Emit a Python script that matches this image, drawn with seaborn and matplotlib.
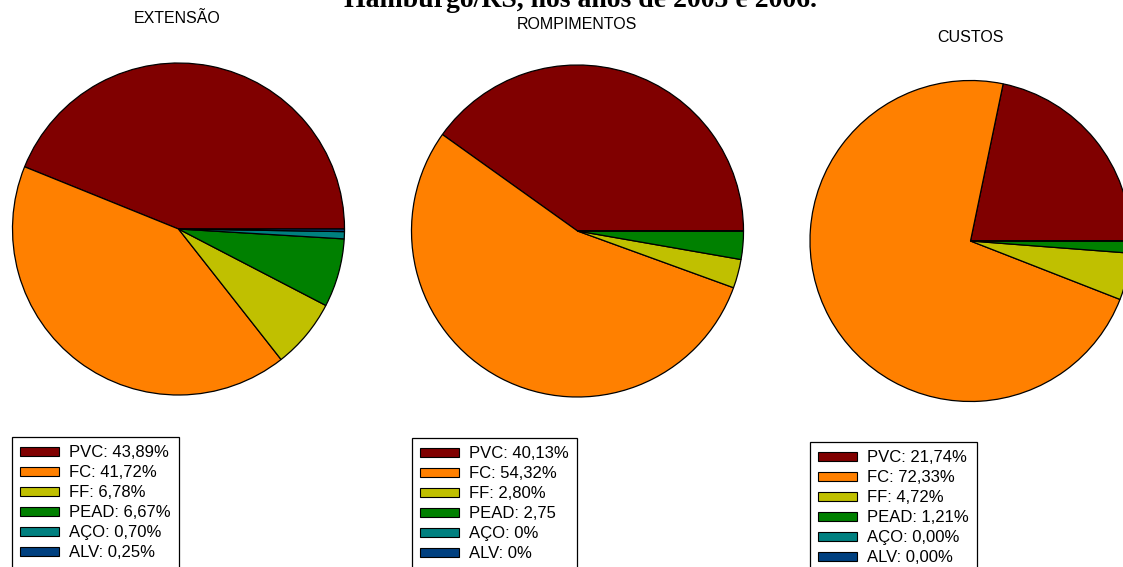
import matplotlib
matplotlib.use('Agg')
import matplotlib.pyplot as plt
import seaborn as sns
from matplotlib.patches import Patch

# dados (percentuais por material)
materiais = ['PVC', 'FC', 'FF', 'PEAD', 'AÇO', 'ALV']
extensao = [43.89, 41.72, 6.78, 6.67, 0.70, 0.25]
rompimentos = [40.13, 54.32, 2.80, 2.75, 0.0, 0.0]
custos = [21.74, 72.33, 4.72, 1.21, 0.0, 0.0]

legenda_extensao = ['PVC: 43,89%', 'FC: 41,72%', 'FF: 6,78%', 'PEAD: 6,67%', 'AÇO: 0,70%', 'ALV: 0,25%']
legenda_rompimentos = ['PVC: 40,13%', 'FC: 54,32%', 'FF: 2,80%', 'PEAD: 2,75', 'AÇO: 0%', 'ALV: 0%']
legenda_custos = ['PVC: 21,74%', 'FC: 72,33%', 'FF: 4,72%', 'PEAD: 1,21%', 'AÇO: 0,00%', 'ALV: 0,00%']

titulo = 'Hamburgo/RS, nos anos de 2005 e 2006.'

sns.set_theme(style='white')
plt.rcParams['font.family'] = ['Liberation Sans', 'DejaVu Sans']
plt.rcParams['text.color'] = 'black'

cores = sns.color_palette(['#800000', '#FF8000', '#C0C000', '#008000', '#008080', '#004080'])

W, H = 1123, 567
fig = plt.figure(figsize=(W / 100, H / 100), dpi=100)
fig.patch.set_facecolor('white')


def px_axes(cx, cy, r):
    """cria eixo quadrado a partir do centro e raio em pixels"""
    return fig.add_axes([(cx - r) / W, (H - cy - r) / H, 2 * r / W, 2 * r / H])


def desenha_pizza(valores, nome, labels, centro, raio, pos_titulo, pos_legenda):
    ax = px_axes(centro[0], centro[1], raio)
    ax.pie(valores, colors=cores, startangle=0, counterclock=True,
           wedgeprops=dict(edgecolor='black', linewidth=0.9))
    ax.set_xlim(-1, 1)
    ax.set_ylim(-1, 1)
    ax.set_aspect('equal')
    ax.axis('off')

    fig.text(pos_titulo[0] / W, 1 - pos_titulo[1] / H, nome,
             ha='center', va='center', fontsize=11.5, color='black')

    handles = [Patch(facecolor=c, edgecolor='black', linewidth=0.8) for c in cores]
    leg = fig.legend(handles, labels, loc='upper left',
                     bbox_to_anchor=(pos_legenda[0] / W, 1 - pos_legenda[1] / H),
                     fontsize=12, frameon=True, fancybox=False, framealpha=1,
                     edgecolor='black', borderaxespad=0, borderpad=0.5,
                     handlelength=2.3, handleheight=0.4, handletextpad=0.6,
                     labelspacing=0.3, labelcolor='black')
    leg.get_frame().set_linewidth(0.9)


desenha_pizza(extensao, 'EXTENSÃO', legenda_extensao, (178.5, 229), 166, (177, 18.5), (12, 437))
desenha_pizza(rompimentos, 'ROMPIMENTOS', legenda_rompimentos, (577.5, 231), 166, (577, 24.5), (412, 438))
desenha_pizza(custos, 'CUSTOS', legenda_custos, (970.5, 241), 160.5, (970, 38), (810, 442))

fig.text(580 / W, 1 - 7 / H, titulo, ha='center', va='baseline', fontsize=20,
         fontweight='bold', family=['Liberation Serif', 'DejaVu Serif'])

plt.savefig('out.png', dpi=100)
